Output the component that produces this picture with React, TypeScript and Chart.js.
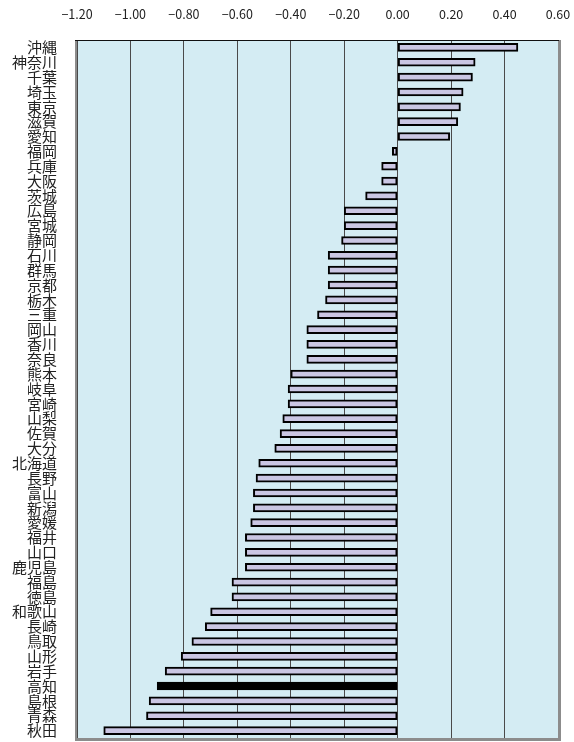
import React, { useEffect, useRef } from "react";
import { Chart, registerables } from "chart.js";

Chart.register(...registerables);

const prefectures = [
  "沖縄", "神奈川", "千葉", "埼玉", "東京", "滋賀", "愛知", "福岡", "兵庫", "大阪",
  "茨城", "広島", "宮城", "静岡", "石川", "群馬", "京都", "栃木", "三重", "岡山",
  "香川", "奈良", "熊本", "岐阜", "宮崎", "山梨", "佐賀", "大分", "北海道", "長野",
  "富山", "新潟", "愛媛", "福井", "山口", "鹿児島", "福島", "徳島", "和歌山", "長崎",
  "鳥取", "山形", "岩手", "高知", "島根", "青森", "秋田",
];

const values = [
  0.45, 0.29, 0.28, 0.245, 0.235, 0.225, 0.195, -0.02, -0.06, -0.06,
  -0.12, -0.20, -0.20, -0.21, -0.26, -0.26, -0.26, -0.27, -0.30, -0.34,
  -0.34, -0.34, -0.40, -0.41, -0.41, -0.43, -0.44, -0.46, -0.52, -0.53,
  -0.54, -0.54, -0.55, -0.57, -0.57, -0.57, -0.62, -0.62, -0.70, -0.72,
  -0.77, -0.81, -0.87, -0.90, -0.93, -0.94, -1.10,
];

const highlighted = ["高知"];

const xMin = -1.2;
const xMax = 0.6;
const xStep = 0.2;

const bgPlugin = {
  id: "plotBg",
  beforeDraw(chart: any) {
    const { ctx, chartArea } = chart;
    ctx.save();
    ctx.fillStyle = "#d4ecf3";
    ctx.fillRect(chartArea.left, chartArea.top, chartArea.right - chartArea.left, chartArea.bottom - chartArea.top);
    ctx.restore();
  },
  afterDraw(chart: any) {
    const { ctx, chartArea } = chart;
    const { left, right, top, bottom } = chartArea;
    ctx.save();
    ctx.strokeStyle = "#8c8c8c";
    ctx.lineWidth = 2;
    ctx.beginPath();
    ctx.moveTo(left - 1, top);
    ctx.lineTo(left - 1, bottom + 1);
    ctx.stroke();
    ctx.lineWidth = 3;
    ctx.beginPath();
    ctx.moveTo(left - 2, bottom + 1.5);
    ctx.lineTo(right + 1.5, bottom + 1.5);
    ctx.lineTo(right + 1.5, top);
    ctx.stroke();
    ctx.strokeStyle = "#111";
    ctx.lineWidth = 1;
    ctx.beginPath();
    ctx.moveTo(left - 2, top + 0.5);
    ctx.lineTo(right + 1, top + 0.5);
    ctx.stroke();
    ctx.restore();
  },
};

const zeroPad = (scale: any) => {
  scale.paddingLeft = 0;
  scale.paddingRight = 0;
  scale.paddingTop = 0;
  scale.paddingBottom = 0;
};

export default function App() {
  const ref = useRef<HTMLCanvasElement | null>(null);

  useEffect(() => {
    if (!ref.current) return;
    const chart = new Chart(ref.current, {
      type: "bar",
      data: {
        labels: prefectures,
        datasets: [
          {
            data: values,
            backgroundColor: prefectures.map((p) => (highlighted.includes(p) ? "#000" : "#cac6e3")),
            borderColor: "#000",
            borderWidth: 2,
            borderSkipped: false,
            barThickness: 8,
          },
        ],
      },
      options: {
        indexAxis: "y",
        animation: false,
        responsive: false,
        maintainAspectRatio: false,
        layout: { padding: { left: 0, right: 16, top: 0, bottom: 4 } },
        plugins: {
          legend: { display: false },
          tooltip: { enabled: false },
        },
        scales: {
          x: {
            position: "top",
            min: xMin,
            max: xMax,
            ticks: {
              stepSize: xStep,
              padding: 18,
              color: "#222",
              font: { family: "'Noto Sans CJK JP', sans-serif", size: 12.5 },
              callback: (v: any) => {
                const n = Number(v);
                const s = Math.abs(n) < 1e-9 ? "0.00" : n.toFixed(2);
                return s.replace("-", "\u2212");
              },
            },
            grid: { color: "#4a4a4a", lineWidth: 1, drawTicks: false },
            border: { display: false },
            afterFit: (scale: any) => {
              scale.height = 40;
              zeroPad(scale);
            },
          },
          y: {
            offset: true,
            ticks: {
              autoSkip: false,
              padding: 20,
              color: "#222",
              font: { family: "'Noto Sans CJK JP', sans-serif", size: 15 },
            },
            grid: { display: false, drawTicks: false },
            border: { display: false },
            afterFit: (scale: any) => {
              scale.width = 77;
              zeroPad(scale);
            },
          },
        },
      },
      plugins: [bgPlugin],
    });
    return () => chart.destroy();
  }, []);

  return (
    <div style={{ position: "fixed", left: 0, top: 0, width: 574, height: 742, background: "#fff" }}>
      <canvas ref={ref} width={574} height={742} />
    </div>
  );
}
